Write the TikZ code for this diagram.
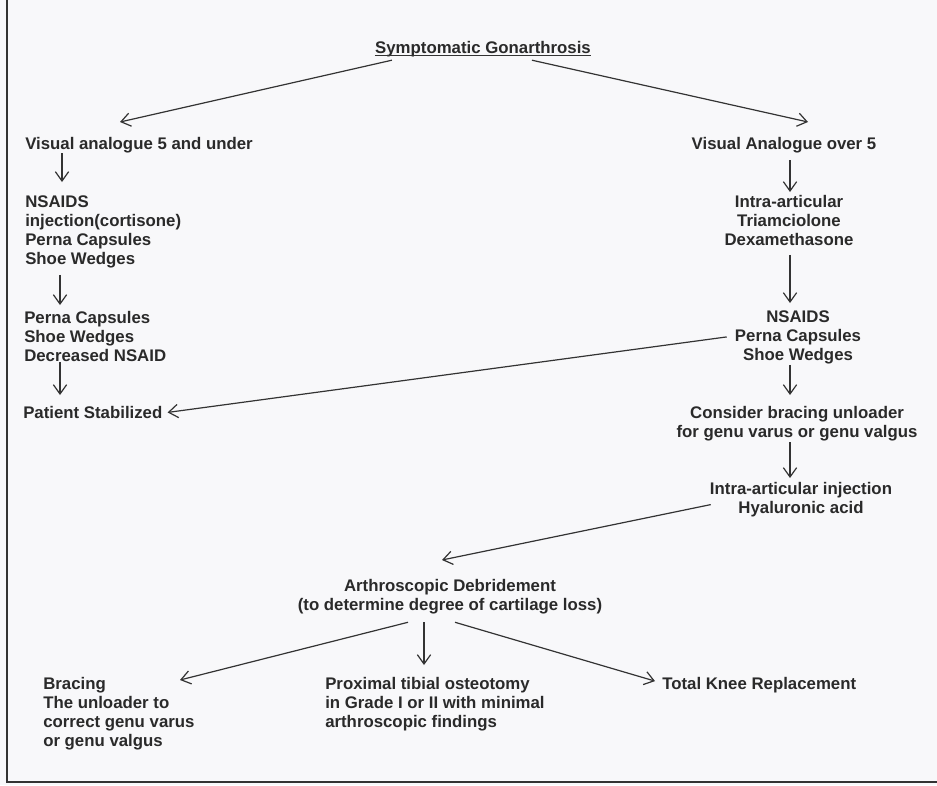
\documentclass[tikz,border=0pt]{standalone}
\usepackage{fontspec}
\setmainfont{Liberation Sans}
\usetikzlibrary{arrows.meta,calc}
\definecolor{ink}{HTML}{2A2A2A}
\definecolor{linec}{HTML}{333333}
\definecolor{paper}{HTML}{F8F8FA}
\tikzset{
  lbl/.style={inner sep=0pt, text=ink, font=\fontsize{12.6}{14.25}\selectfont\bfseries},
  lblL/.style={lbl, anchor=north west, align=left},
  lblC/.style={lbl, anchor=north, align=center},
  arr/.style={draw=linec, line width=0.9pt, -{Straight Barb[length=7pt,width=10pt]}},
}
\begin{document}
\begin{tikzpicture}[x=0.75pt,y=-0.75pt]
\useasboundingbox (0,0) rectangle (937,785);
\fill[paper] (0,0) rectangle (937,785);
\draw[linec, line width=0.9pt] (7,0) -- (7,782) -- (937,782);

% nodes
\node[lblC] (title) at (483,41) {Symptomatic Gonarthrosis};
\draw[linec, line width=0.8pt] ([yshift=-1.3pt]title.base west) -- ([yshift=-1.3pt]title.base east);

\node[lblL] (vl) at (25,137) {Visual analogue 5 and under};
\node[lblL] (nsaidL) at (25,195) {NSAIDS\\injection(cortisone)\\Perna Capsules\\Shoe Wedges};
\node[lblL] (pernaL) at (24,311) {Perna Capsules\\Shoe Wedges\\Decreased NSAID};
\node[lblL] (stab) at (23,406) {Patient Stabilized};

\node[lblC] (vr) at (784,137) {Visual Analogue over 5};
\node[lblC] (intra) at (789,195) {Intra-articular\\Triamciolone\\Dexamethasone};
\node[lblC] (nsaidR) at (798,310) {NSAIDS\\Perna Capsules\\Shoe Wedges};
\node[lblC] (bracing) at (797,406) {Consider bracing unloader\\for genu varus or genu valgus};
\node[lblC] (hyal) at (801,482) {Intra-articular injection\\Hyaluronic acid};

\node[lblC] (arth) at (450,579) {Arthroscopic Debridement\\(to determine degree of cartilage loss)};

\node[lblL] (brac) at (43,677) {Bracing\\The unloader to\\correct genu varus\\or genu valgus};
\node[lblL] (prox) at (325,677) {Proximal tibial osteotomy\\in Grade I or II with minimal\\arthroscopic findings};
\node[lblL] (tkr) at (662,677) {Total Knee Replacement};

% connectors
\draw[arr] ($(title.south west)+(17,3)$) -- ($(vl.north west)+(95,-15)$);
\draw[arr] ($(title.south west)+(157,3)$) -- ($(vr.north)+(24,-15)$);

\draw[arr] ($(vl.south west)+(37,0)$) -- ($(nsaidL.north west)+(37,-13)$);
\draw[arr] ($(nsaidL.south west)+(35,7)$) -- ($(pernaL.north west)+(36,-6)$);
\draw[arr] ($(pernaL.south west)+(36,0)$) -- ($(stab.north west)+(37,-11)$);
\draw[arr] ($(nsaidR.west)+(-8,0)$) -- ($(stab.east)+(5,0)$);

\draw[arr] ($(vr.south)+(6,7)$) -- ($(intra.north)+(1,-3)$);
\draw[arr] ($(intra.south)+(1,9)$) -- ($(nsaidR.north)+(-8,-7)$);
\draw[arr] ($(nsaidR.south)+(-8,1)$) -- ($(bracing.north)+(-7,-11)$);
\draw[arr] ($(bracing.south)+(-7,1)$) -- ($(hyal.north)+(-11,-4)$);
\draw[arr] ($(hyal.west)+(1,5)$) -- ($(arth.north)+(-8,-19)$);

\draw[arr] ($(arth.south)+(-42,8)$) -- ($(brac.north west)+(137,3)$);
\draw[arr] ($(arth.south)+(-26,8)$) -- ($(prox.north west)+(99,-12)$);
\draw[arr] ($(arth.south)+(5,8)$) -- ($(tkr.west)+(-7,-4)$);
\end{tikzpicture}
\end{document}
